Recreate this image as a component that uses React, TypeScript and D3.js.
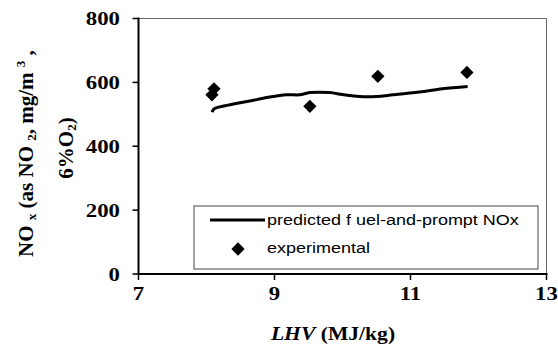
import React from 'react';
import * as d3 from 'd3';

// predicted fuel-and-prompt NOx
const predLhv = [8.08, 8.12, 8.3, 8.74, 8.93, 9.18, 9.37, 9.52, 9.81, 10.0, 10.25, 10.5, 10.74, 11.13, 11.47, 11.84];
const predNox = [507, 518, 528, 546, 554, 561, 561, 568, 568, 562, 556, 556, 561, 570, 580, 587];

// experimental points
const expLhv = [8.08, 8.11, 9.52, 10.52, 11.83];
const expNox = [561, 580, 525, 619, 631];

const xTicks = [7, 9, 11, 13];
const yTicks = [0, 200, 400, 600, 800];

const W = 558;
const H = 351;
const margin = { top: 18.5, right: 11.5, bottom: 77, left: 138.5 };
const SX = 1.2; // the original picture is stretched sideways

const serif = '"Liberation Serif", "Times New Roman", serif';
const sans = '"Liberation Sans", Arial, sans-serif';

export default function App() {
  const innerW = W - margin.left - margin.right;
  const innerH = H - margin.top - margin.bottom;

  const x = d3.scaleLinear().domain([7, 13]).range([margin.left, margin.left + innerW]);
  const y = d3.scaleLinear().domain([0, 800]).range([margin.top + innerH, margin.top]);

  const line = d3
    .line<number>()
    .x((_, i) => x(predLhv[i]))
    .y((d) => y(d))
    .curve(d3.curveCatmullRom.alpha(0.5));

  const diamond = d3.symbol(d3.symbolSquare, 88)() || '';

  const x0 = margin.left;
  const x1 = margin.left + innerW;
  const y0 = margin.top + innerH;
  const y1 = margin.top;

  return (
    <svg width={W} height={H} style={{ position: 'absolute', left: 0, top: 0, background: '#fff' }}>
      {/* plot frame (top and right) */}
      <line x1={x0} y1={y1} x2={x1} y2={y1} stroke="#666" strokeWidth={1} />
      <line x1={x1} y1={y1} x2={x1} y2={y0} stroke="#666" strokeWidth={1} />

      {/* y axis */}
      {yTicks.map((t) => (
        <g key={'y' + t}>
          <line x1={x0 - 6} x2={x0} y1={y(t)} y2={y(t)} stroke="#000" strokeWidth={1.5} />
          <text
            transform={`translate(120,${y(t) + 6.5}) scale(${SX},1)`}
            textAnchor="end"
            fontFamily={serif}
            fontWeight="bold"
            fontSize={19}
          >
            {t}
          </text>
        </g>
      ))}

      {/* x axis */}
      {xTicks.map((t) => (
        <g key={'x' + t}>
          <line x1={x(t)} x2={x(t)} y1={y0} y2={y0 + 6} stroke="#000" strokeWidth={1.5} />
          <text
            transform={`translate(${x(t)},300) scale(${SX},1)`}
            textAnchor="middle"
            fontFamily={serif}
            fontWeight="bold"
            fontSize={19}
          >
            {t}
          </text>
        </g>
      ))}

      <line x1={x0} y1={y1 - 1} x2={x0} y2={y0 + 1} stroke="#000" strokeWidth={2} />
      <line x1={x0 - 1} y1={y0} x2={x1 + 1} y2={y0} stroke="#000" strokeWidth={2} />

      {/* predicted curve */}
      <path d={line(predNox) || ''} fill="none" stroke="#000" strokeWidth={3} />

      {/* experimental */}
      {expNox.map((v, i) => (
        <path key={'e' + i} d={diamond} transform={`translate(${x(expLhv[i])},${y(v)}) rotate(45)`} fill="#000" />
      ))}

      {/* legend */}
      <rect x={194} y={206} width={344} height={63} fill="#fff" stroke="#444" strokeWidth={1} />
      <line x1={210} x2={265} y1={220} y2={220} stroke="#000" strokeWidth={3} />
      <text transform={`translate(267,224.5) scale(${SX},1)`} fontFamily={sans} fontSize={15}>
        predicted f uel-and-prompt NOx
      </text>
      <path d={diamond} transform="translate(238,249) rotate(45)" fill="#000" />
      <text transform={`translate(267,252.5) scale(${SX},1)`} fontFamily={sans} fontSize={15}>
        experimental
      </text>

      {/* x title */}
      <text
        transform={`translate(333,340) scale(${SX},1)`}
        textAnchor="middle"
        fontFamily={serif}
        fontWeight="bold"
        fontSize={18}
      >
        <tspan fontStyle="italic">LHV</tspan>
        <tspan> (MJ/kg)</tspan>
      </text>

      {/* y title */}
      <text
        transform="translate(33,153.5) rotate(-90)"
        textAnchor="middle"
        fontFamily={serif}
        fontWeight="bold"
        fontSize={21}
      >
        <tspan>NO </tspan>
        <tspan fontSize={13} dy={3}>x</tspan>
        <tspan dy={-3}> (as NO </tspan>
        <tspan fontSize={13} dy={3}>2</tspan>
        <tspan dy={-3}>, mg/m </tspan>
        <tspan fontSize={13} dy={-8}>3</tspan>
        <tspan dy={8}> ,</tspan>
      </text>
      <text
        transform="translate(73,148) rotate(-90)"
        textAnchor="middle"
        fontFamily={serif}
        fontWeight="bold"
        fontSize={21}
      >
        <tspan>6%O</tspan>
        <tspan fontSize={13} dy={3}>2</tspan>
        <tspan dy={-3}>)</tspan>
      </text>
    </svg>
  );
}
